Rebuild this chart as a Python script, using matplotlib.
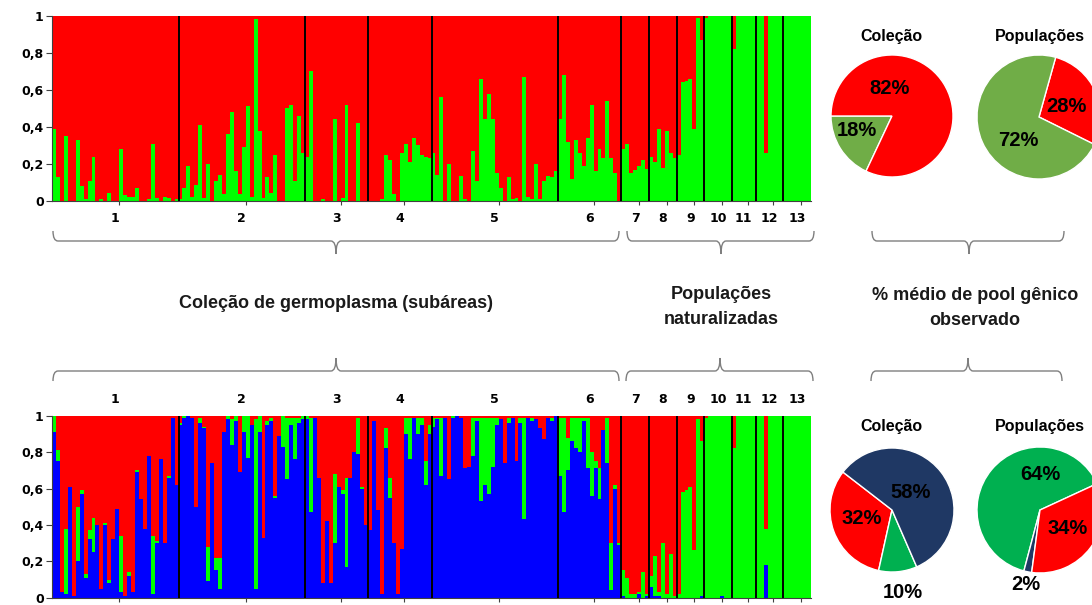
"""
STRUCTURE-style admixture bars (K=2 and K=3) with mean gene pool pies.
"""

import numpy as np
import matplotlib.pyplot as plt
from matplotlib.path import Path
from matplotlib.patches import PathPatch

W, H = 1092, 605

groups = ["1", "2", "3", "4", "5", "6", "7", "8", "9", "10", "11", "12", "13"]
group_sizes = [32, 32, 16, 16, 32, 16, 7, 7, 7, 7, 6, 7, 7]

# K=2: green fraction of each individual (red is the rest)
k2_green = [
    # 1
    0.39, 0.13, 0, 0.35, 0, 0, 0.33, 0.08, 0.01, 0.11, 0.24, 0, 0.01, 0, 0.045, 0,
    0, 0.28, 0.03, 0.02, 0.02, 0.07, 0, 0, 0.01, 0.31, 0.015, 0, 0.02, 0.015, 0, 0.01,
    # 2
    0.01, 0.07, 0.19, 0.02, 0.085, 0.41, 0.015, 0.2, 0, 0.11, 0.14, 0.04, 0.36, 0.48, 0.16, 0.04,
    0.29, 0.51, 0.02, 0.98, 0.38, 0.015, 0.13, 0.045, 0.25, 0, 0, 0.5, 0.52, 0.11, 0.46, 0.26,
    # 3
    0.24, 0.7, 0, 0, 0.01, 0, 0, 0.44, 0, 0.015, 0.52, 0, 0, 0.42, 0, 0,
    # 4
    0, 0, 0, 0.01, 0.25, 0.22, 0.04, 0, 0.26, 0.31, 0.21, 0.34, 0.30, 0.25, 0.24, 0.23,
    # 5
    0.26, 0.14, 0.56, 0, 0.2, 0, 0, 0.135, 0.01, 0, 0.27, 0.11, 0.66, 0.44, 0.58, 0.44,
    0.15, 0.07, 0, 0.13, 0.01, 0.015, 0, 0.67, 0.02, 0.01, 0.2, 0.01, 0.11, 0.135, 0.13, 0.16,
    # 6
    0.44, 0.68, 0.32, 0.12, 0.33, 0.26, 0.19, 0.34, 0.52, 0.16, 0.28, 0.23, 0.54, 0.23, 0.15, 0,
    # 7 - 13
    0.28, 0.31, 0.15, 0.165, 0.19, 0.22, 0.17,
    0.24, 0.21, 0.39, 0.18, 0.38, 0.26, 0.23,
    0.25, 0.64, 0.65, 0.66, 0.39, 0.99, 0.87,
    0.99, 1, 1, 1, 1, 1, 1,
    0.82, 1, 1, 1, 1, 1,
    1, 1, 0.26, 1, 1, 1, 1,
    1, 1, 1, 1, 1, 1, 1,
]

# K=3: blue (bottom) and green (middle) fractions; red is the rest
k3_blue = [
    # 1
    0.91, 0.75, 0.03, 0.02, 0.61, 0.01, 0.2, 0.57, 0.11, 0.32, 0.25, 0.4, 0.05, 0.4, 0.08, 0.32,
    0.49, 0.03, 0.01, 0.12, 0.03, 0.69, 0.54, 0.38, 0.78, 0.02, 0.3, 0.76, 0.3, 0.66, 0.99, 0.62,
    # 2
    0.95, 0.99, 1, 0.99, 0.5, 0.96, 0.93, 0.09, 0.74, 0.15, 0.05, 0.91, 0.98, 0.84, 0.97, 0.69,
    0.91, 0.77, 0.95, 0.05, 0.91, 0.33, 0.95, 0.97, 0.55, 0.89, 0.83, 0.65, 0.95, 0.76, 0.96, 0.98,
    # 3
    0.98, 0.47, 0.99, 0.66, 0.08, 0.42, 0.08, 0.3, 0.61, 0.57, 0.17, 0.66, 0.8, 0.79, 0.6, 0.4,
    # 4
    0.37, 0.97, 0.48, 0.02, 0.82, 0.55, 0.3, 0.02, 0.27, 0.9, 0.76, 0.99, 0.9, 0.95, 0.62, 0.9,
    # 5
    0.94, 0.98, 0.67, 0.99, 0.65, 0.99, 1, 0.99, 0.71, 0.72, 0.78, 0.97, 0.53, 0.62, 0.57, 0.72,
    0.95, 0.98, 0.74, 0.96, 0.99, 0.75, 0.96, 0.43, 0.99, 0.97, 0.98, 0.93, 0.87, 0.99, 0.97, 1,
    # 6
    0.67, 0.47, 0.7, 0.86, 0.82, 0.8, 0.97, 0.71, 0.56, 0.71, 0.54, 0.92, 0.74, 0.04, 0.6, 0.29,
    # 7 - 13
    0.01, 0, 0, 0, 0.02, 0, 0.01,
    0.06, 0.01, 0.01, 0, 0, 0, 0,
    0, 0, 0, 0, 0, 0, 0.01,
    0, 0, 0, 0, 0.01, 0, 0,
    0, 0, 0, 0, 0, 0,
    0, 0, 0.18, 0, 0, 0, 0,
    0, 0, 0, 0, 0, 0, 0,
]
k3_green = [
    # 1
    0.09, 0.06, 0, 0.36, 0, 0, 0.3, 0.02, 0.02, 0.05, 0.19, 0, 0, 0.01, 0.02, 0,
    0, 0.31, 0, 0.02, 0, 0.01, 0, 0, 0, 0.32, 0.01, 0, 0, 0.01, 0, 0,
    # 2
    0.01, 0.01, 0, 0, 0, 0.03, 0.01, 0.19, 0, 0.07, 0.17, 0, 0.02, 0.14, 0.03, 0,
    0.09, 0.23, 0, 0.93, 0.09, 0, 0.02, 0.02, 0.01, 0, 0.17, 0.34, 0.04, 0.23, 0.03, 0.02,
    # 3
    0.02, 0.52, 0, 0, 0, 0, 0, 0.38, 0, 0.02, 0.49, 0, 0, 0.2, 0.01, 0,
    # 4
    0, 0, 0, 0, 0.11, 0.11, 0, 0, 0, 0.09, 0.23, 0, 0.09, 0.04, 0.13, 0.05,
    # 5
    0.05, 0.01, 0.32, 0, 0, 0.01, 0, 0, 0, 0, 0.21, 0.02, 0.46, 0.37, 0.42, 0.27,
    0.04, 0, 0, 0.03, 0, 0, 0.03, 0.56, 0, 0.02, 0, 0, 0, 0, 0.02, 0,
    # 6
    0.32, 0.52, 0.18, 0.13, 0.17, 0.19, 0.02, 0.28, 0.24, 0.04, 0.17, 0, 0.25, 0.26, 0.02, 0.01,
    # 7 - 13
    0.14, 0.11, 0.02, 0.02, 0.01, 0.14, 0.01,
    0.06, 0.22, 0.02, 0.3, 0.02, 0.24, 0.01,
    0.02, 0.58, 0.59, 0.61, 0.26, 0.98, 0.85,
    0.99, 1, 1, 1, 0.99, 1, 1,
    0.82, 1, 1, 1, 1, 1,
    1, 1, 0.2, 1, 1, 1, 1,
    1, 1, 1, 1, 1, 1, 1,
]

# pies: mean gene pool
pie_titles = ["Coleção", "Populações"]
k2_col_vals = [18, 82]            # green, red
k2_pop_vals = [28, 72]            # red, green
k3_col_vals = [32, 10, 58]        # red, green, navy
k3_pop_vals = [64, 2, 34]         # green, navy, red

RED = "#FF0000"
GREEN = "#00FF00"
BLUE = "#0000FF"

plt.rcParams["font.family"] = ["DejaVu Sans"]
NARROW = ["Liberation Sans Narrow", "Liberation Sans", "DejaVu Sans"]

fig = plt.figure(figsize=(W / 100, H / 100), dpi=100)


def px_axes(x0, y0, x1, y1):
    return fig.add_axes([x0 / W, 1 - y1 / H, (x1 - x0) / W, (y1 - y0) / H])


def structure_plot(ax, layers, colors):
    n = len(layers[0])
    x = np.arange(n)
    bottom = np.zeros(n)
    for vals, c in zip(layers, colors):
        vals = np.asarray(vals, dtype=float)
        ax.bar(x, vals, bottom=bottom, width=1.0, align="edge", color=c,
               linewidth=0, antialiased=False)
        bottom += vals
    bounds = np.cumsum(group_sizes)
    for b in bounds[:-1]:
        ax.axvline(b, color="black", lw=1.4, zorder=3)
    ax.set_xlim(0, n)
    ax.set_ylim(0, 1)
    for s in ["top", "right"]:
        ax.spines[s].set_visible(False)
    ax.spines["left"].set_color("#404040")
    ax.spines["bottom"].set_color("#404040")
    ax.set_yticks([0, 0.2, 0.4, 0.6, 0.8, 1])
    ax.set_yticklabels(["0", "0,2", "0,4", "0,6", "0,8", "1"],
                       fontsize=9, fontweight="bold")
    starts = bounds - np.array(group_sizes)
    centers = starts + np.array(group_sizes) / 2
    ax.set_xticks(centers + 1)
    ax.set_xticklabels([])
    ax.tick_params(axis="x", length=3, color="#404040")
    ax.tick_params(axis="y", length=4, color="#404040", pad=2)
    return centers


# top: K=2
ax1 = px_axes(52, 15.7, 811, 201)
g2 = np.asarray(k2_green, dtype=float)
centers = structure_plot(ax1, [g2, 1 - g2], [GREEN, RED])
for c, lab in zip(centers, groups):
    ax1.text(c, -0.095, lab, ha="center", va="center", fontsize=9,
             fontweight="bold", transform=ax1.get_xaxis_transform())

# bottom: K=3
ax2 = px_axes(52, 415.7, 811, 597.7)
b3 = np.asarray(k3_blue, dtype=float)
gr3 = np.asarray(k3_green, dtype=float)
r3 = np.clip(1 - b3 - gr3, 0, 1)
centers = structure_plot(ax2, [b3, gr3, r3], [BLUE, GREEN, RED])
for c, lab in zip(centers, groups):
    ax2.text(c, 1.09, lab, ha="center", va="center", fontsize=9,
             fontweight="bold", transform=ax2.get_xaxis_transform())


def pie_axes(cx, cy, r):
    a = px_axes(cx - r, cy - r, cx + r, cy + r)
    a.axis("off")
    return a


def fix_limits(a):
    a.set_xlim(-1, 1)
    a.set_ylim(-1, 1)
    a.set_aspect("equal")


wp = dict(edgecolor="white", linewidth=1.0)

pa = pie_axes(892, 116, 61)
pa.pie(k2_col_vals, colors=["#70AD47", RED], startangle=180, radius=1,
       wedgeprops=wp)
fix_limits(pa)

pb = pie_axes(1039, 117, 62)
pb.pie(k2_pop_vals, colors=[RED, "#70AD47"], startangle=74.4, counterclock=False,
       radius=1, wedgeprops=wp)
fix_limits(pb)

pc = pie_axes(892, 510, 62)
pc.pie(k3_col_vals, colors=[RED, "#00B050", "#1F3864"], startangle=142.3,
       radius=1, wedgeprops=wp)
fix_limits(pc)

pd_ = pie_axes(1040, 510, 63)
pd_.pie(k3_pop_vals, colors=["#00B050", "#1F3864", RED], startangle=24.8,
        radius=1, wedgeprops=wp)
fix_limits(pd_)

# overlay in pixel coordinates for braces, captions and pie labels
ov = fig.add_axes([0, 0, 1, 1])
ov.set_xlim(0, W)
ov.set_ylim(H, 0)
ov.axis("off")


def brace(x0, x1, xc, y, tip, end):
    r = 5
    verts = [(x0, end), (x0, y), (x0 + r, y),
             (xc - r, y), (xc, y), (xc, tip),
             (xc, y), (xc + r, y),
             (x1 - r, y), (x1, y), (x1, end)]
    codes = [Path.MOVETO, Path.CURVE3, Path.CURVE3,
             Path.LINETO, Path.CURVE3, Path.CURVE3,
             Path.CURVE3, Path.CURVE3,
             Path.LINETO, Path.CURVE3, Path.CURVE3]
    ov.add_patch(PathPatch(Path(verts, codes), fill=False, ec="#7f7f7f", lw=1.0))


brace(53, 619, 336, 241, 254, 231)
brace(627, 814, 721, 241, 254, 231)
brace(872, 1064, 969, 241, 254, 231)
brace(53, 619, 336, 371, 358, 381)
brace(626, 813, 720, 371, 358, 381)
brace(871, 1062, 968, 371, 358, 381)

cap = dict(ha="center", va="center", fontsize=13, fontweight="bold",
           family=NARROW, color="#1a1a1a")
ov.text(336, 303, "Coleção de germoplasma (subáreas)", **cap)
ov.text(721, 307, "Populações\nnaturalizadas", linespacing=1.65, **cap)
ov.text(975, 308, "% médio de pool gênico\nobservado", linespacing=1.65, **cap)

lab = dict(ha="center", va="center", fontsize=14.5, fontweight="bold",
           family=NARROW, color="black")
ttl = dict(ha="center", va="center", fontsize=11.5, fontweight="bold",
           family=NARROW, color="black")

ov.text(890, 89, "82%", **lab)
ov.text(857, 130, "18%", **lab)
ov.text(891, 36, pie_titles[0], **ttl)
ov.text(1066, 107, "28%", **lab)
ov.text(1018, 141, "72%", **lab)
ov.text(1040, 36, pie_titles[1], **ttl)

ov.text(911, 492, "58%", **lab)
ov.text(862, 519, "32%", **lab)
ov.text(903, 592, "10%", **lab)
ov.text(891, 427, pie_titles[0], **ttl)
ov.text(1040, 474, "64%", **lab)
ov.text(1068, 528, "34%", **lab)
ov.text(1026, 584, "2%", **lab)
ov.text(1040, 427, pie_titles[1], **ttl)

fig.savefig("out.png", dpi=100)
